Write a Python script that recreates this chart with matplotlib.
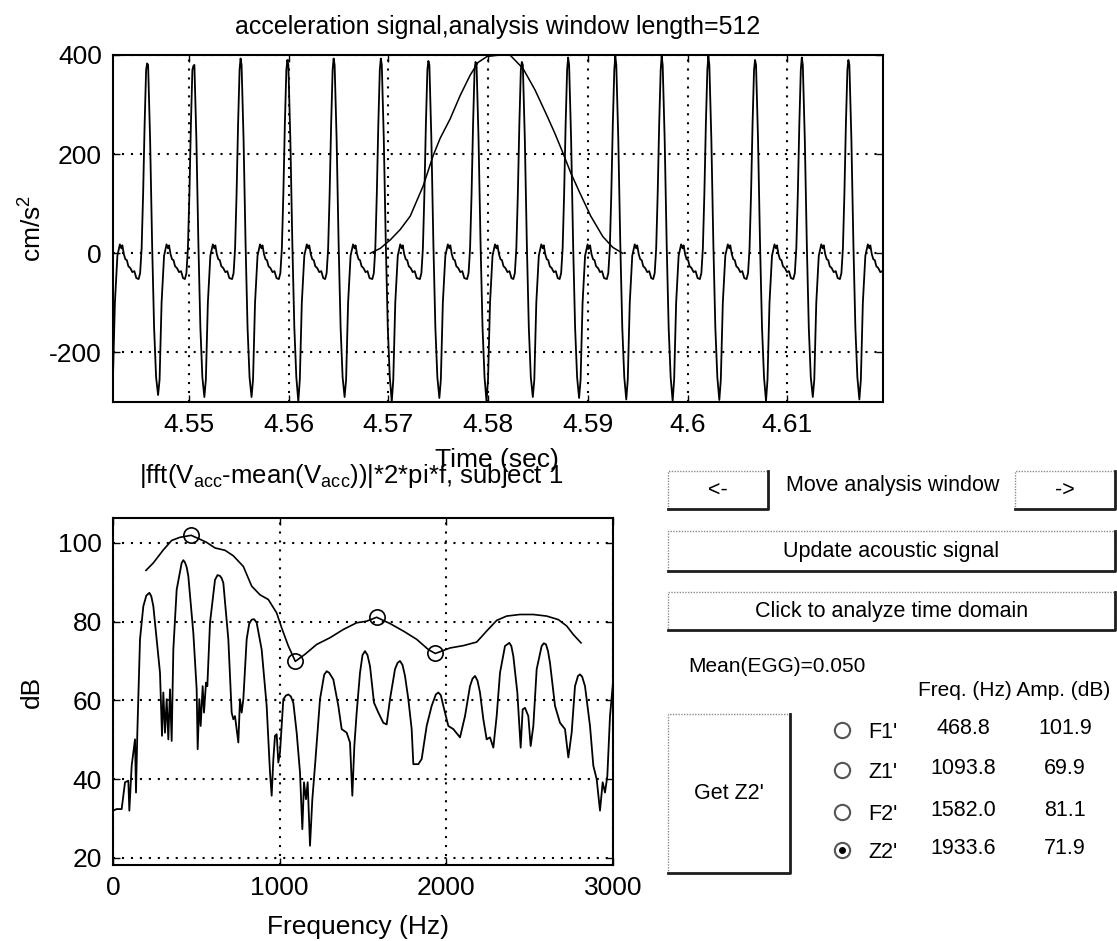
import numpy as np
import matplotlib.pyplot as plt
from matplotlib.patches import Rectangle
from matplotlib.lines import Line2D

plt.rcParams['font.family'] = ['Liberation Sans', 'DejaVu Sans']
plt.rcParams['mathtext.fontset'] = 'custom'
plt.rcParams['mathtext.rm'] = 'Liberation Sans'
plt.rcParams['axes.unicode_minus'] = False

# ---- acceleration signal (top) ----
# times of the positive spikes (s), spike heights and trough depths
peak_times = [4.54114, 4.54582, 4.55046, 4.55519, 4.55988, 4.56452, 4.56925, 4.57402,
              4.57875, 4.58339, 4.58803, 4.59276, 4.59741, 4.60209, 4.60677, 4.61146,
              4.61613, 4.62081]
peak_vals = [390, 383, 378, 393, 390, 393, 393, 388, 386, 386, 395, 398, 398, 398, 390, 395, 390, 390]
trough_vals = [-290, -286, -290, -290, -299, -290, -299, -292, -299, -290, -292, -295, -298,
               -296, -298, -290, -295, -292]
# one glottal cycle as seen in the trace: offset from spike (ms), value (cm/s^2)
cycle_off_ms = [-0.85, -0.7, -0.55, -0.4, -0.25, -0.1, 0.0, 0.1, 0.3, 0.5, 0.7, 0.9, 1.1,
                1.25, 1.45, 1.7, 1.95, 2.1, 2.2, 2.35, 2.5, 2.65, 2.8, 3.0, 3.2, 3.4, 3.6]
cycle_shape = [-52, -40, 10, 120, 260, 370, 390, 380, 230, 20, -150, -250, -290,
               -255, -100, -5, 18, 10, 16, -2, -12, -14, -26, -30, -38, -36, -50]

# analysis window drawn over the signal
win_t = [4.5682, 4.5692, 4.5702, 4.5712, 4.5722, 4.5735, 4.5745, 4.5752, 4.5762, 4.5772,
         4.5782, 4.5790, 4.5799, 4.5812, 4.5822, 4.5835, 4.5847, 4.5859, 4.5867, 4.5875,
         4.5883, 4.5892, 4.5903, 4.5915, 4.5925, 4.5935]
win_v = [0, 10, 27, 48, 75, 136, 197, 232, 271, 318,
         359, 385, 397, 400, 400, 373, 330, 278, 242, 203,
         162, 122, 75, 34, 12, 0]

# ---- spectrum (bottom) ----
spec_f = [0, 22, 52, 72, 92, 98, 112, 122, 132, 138,
          146, 162, 182, 200, 218, 230, 242, 266, 282, 294,
          302, 312, 322, 332, 342, 352, 362, 382, 412, 422,
          432, 442, 452, 482, 502, 508, 518, 526, 538, 546,
          558, 566, 582, 612, 627, 642, 652, 662, 692, 712,
          722, 732, 742, 752, 762, 772, 782, 802, 817, 832,
          847, 862, 892, 922, 942, 952, 962, 972, 982, 992,
          1002, 1022, 1037, 1052, 1067, 1082, 1102, 1122, 1136, 1146,
          1158, 1168, 1182, 1196, 1212, 1242, 1267, 1282, 1297, 1322,
          1352, 1372, 1402, 1422, 1436, 1448, 1462, 1482, 1497, 1512,
          1527, 1542, 1566, 1592, 1622, 1642, 1662, 1692, 1707, 1722,
          1737, 1752, 1772, 1792, 1802, 1832, 1852, 1882, 1912, 1937,
          1952, 1967, 1982, 2012, 2042, 2082, 2112, 2142, 2157, 2172,
          2187, 2202, 2222, 2242, 2262, 2282, 2302, 2322, 2352, 2365,
          2378, 2390, 2402, 2426, 2446, 2458, 2472, 2492, 2506, 2522,
          2542, 2572, 2585, 2598, 2610, 2622, 2652, 2682, 2712, 2732,
          2752, 2772, 2790, 2802, 2815, 2832, 2862, 2882, 2902, 2922,
          2938, 2952, 2966, 2982, 3000]
spec_db = [32, 32.4, 32.4, 39.2, 39.6, 32, 43.4, 46.8, 50.1, 36.6,
           51.8, 75.5, 83.9, 86.6, 87.3, 86.4, 83.9, 73.8, 67.0, 51,
           62, 51.8, 60.3, 50.1, 62.8, 49.7, 72.9, 88.1, 94.9, 95.6,
           95.0, 93.8, 91.5, 77.1, 62.8, 47.6, 60.3, 53.5, 63.6, 56.9,
           64.5, 63.6, 79.7, 90.6, 91.8, 91.6, 91.0, 89.8, 75.5, 56.9,
           55.2, 56.0, 52.7, 49.3, 60.3, 56.9, 60.3, 75.5, 79.4, 80.5,
           80.6, 79.7, 72.9, 58.6, 41.7, 35.8, 45, 51, 51.4, 44.2,
           46.8, 60.3, 61.2, 61.5, 61.0, 59.4, 51.8, 41.7, 27.3, 39.2,
           34.9, 39.2, 23.1, 34.9, 43.4, 60.3, 66.5, 67.4, 67.0, 65.3,
           58.6, 52.7, 51.8, 49.3, 35.8, 48.4, 56.9, 67.0, 71.5, 72.5,
           71.5, 68.7, 59.4, 56.9, 54.3, 53.9, 60.3, 67.9, 69.5, 70,
           69, 66.2, 60.3, 52.7, 43.8, 43.8, 45.1, 53.5, 58.6, 61.5,
           62, 61.3, 58.6, 53.5, 52.7, 50.6, 56.0, 63.6, 65.5, 66.2,
           65, 62, 55.2, 50.1, 50.6, 48, 56.0, 67, 73.8, 74.2,
           74.6, 73.8, 71.2, 62, 48, 57.7, 58.1, 56.0, 48.4, 53.5,
           67.9, 73.8, 74.5, 74.2, 72.5, 69.5, 58.6, 54.3, 52.7, 45.5,
           51.8, 63.6, 66.2, 66.6, 66.0, 63.6, 53.5, 43.4, 40, 32,
           39.2, 36.6, 40.8, 56.0, 64.5]
env_f = [198, 242, 302, 352, 402, 469, 522, 562, 612, 672, 722, 782, 832, 882, 932, 982,
         1012, 1052, 1094, 1152, 1222, 1302, 1382, 1462, 1522, 1582, 1662, 1742, 1822, 1892,
         1934, 2022, 2102, 2182, 2242, 2302, 2362, 2442, 2522, 2602, 2672, 2722, 2762, 2808]
env_db = [93.0, 94.9, 98.2, 100.6, 101.4, 101.9, 100.9, 100.1, 98.7, 98.1, 96.7, 94.0, 89.0,
          86.8, 85.6, 82.2, 78.4, 73.8, 69.9, 71.7, 74.2, 75.9, 78.0, 79.7, 80.1, 81.1, 79.5,
          77.6, 75.5, 72.9, 71.9, 73.3, 73.9, 74.8, 77.6, 80.3, 81.4, 81.8, 81.8, 81.4, 80.5,
          78.9, 76.7, 74.6]
formant_names = ["F1'", "Z1'", "F2'", "Z2'"]
formant_f = [468.8, 1093.8, 1582.0, 1933.6]
formant_db = [101.9, 69.9, 81.1, 71.9]
selected = 3

# build the trace from the spikes
i_pk = cycle_off_ms.index(0.0)
i_tr = cycle_off_ms.index(1.1)
sig_t, sig_v = [], []
for tp, pk, tr in zip(peak_times, peak_vals, trough_vals):
    vals = list(cycle_shape)
    vals[i_pk] = pk
    vals[i_tr] = tr
    sig_t += [tp + o / 1000.0 for o in cycle_off_ms]
    sig_v += vals

W, H = 1117, 941
fig = plt.figure(figsize=(W / 100, H / 100), dpi=100)


def fx(px):
    return px / W


def fy(py):
    return 1 - py / H


ax1 = fig.add_axes([fx(113), fy(402), (883 - 113) / W, (402 - 55) / H])
ax2 = fig.add_axes([fx(113), fy(865), (613 - 113) / W, (865 - 518) / H])

for ax in (ax1, ax2):
    ax.tick_params(direction='in', length=5, width=1, top=True, right=True, labelsize=19, pad=8)
    for s in ax.spines.values():
        s.set_linewidth(1.5)
    ax.grid(True, color='black', linestyle=(0, (1, 3.3)), lw=1.5)

ax1.plot(sig_t, sig_v, color='black', lw=1.3)
ax1.plot(win_t, win_v, color='black', lw=1.1)
ax1.set_xlim(4.5424, 4.6196)
ax1.set_ylim(-300, 400)
ax1.set_xticks([4.55, 4.56, 4.57, 4.58, 4.59, 4.60, 4.61])
ax1.set_xticklabels(['4.55', '4.56', '4.57', '4.58', '4.59', '4.6', '4.61'])
ax1.set_yticks([-200, 0, 200, 400])
ax1.set_title('acceleration signal,analysis window length=512', fontsize=18, pad=15)
ax1.set_xlabel('Time (sec)', fontsize=19)
ax1.xaxis.set_label_coords(0.4987, -0.133)
ax1.set_ylabel('cm/s$^2$', fontsize=19)
ax1.yaxis.set_label_coords(-0.087, 0.5)

ax2.plot(spec_f, spec_db, color='black', lw=1.3)
ax2.plot(env_f, env_db, color='black', lw=1.2)
ax2.plot(formant_f, formant_db, 'o', ms=11, mfc='none', mec='black', mew=1.2)
ax2.set_xlim(0, 3000)
ax2.set_ylim(18.2, 106.3)
ax2.set_xticks([0, 1000, 2000, 3000])
ax2.set_yticks([20, 40, 60, 80, 100])
t2 = ax2.set_title(r'|fft(V$_{\mathrm{acc}}$-mean(V$_{\mathrm{acc}}$))|*2*pi*f, subject 1',
                   fontsize=18.5, pad=25)
t2.set_x(0.476)
ax2.set_xlabel('Frequency (Hz)', fontsize=19)
ax2.xaxis.set_label_coords(0.49, -0.144)
ax2.set_ylabel('dB', fontsize=19)
ax2.yaxis.set_label_coords(-0.138, 0.5)


# ---- GUI controls on the right ----
def button(x0, y0, x1, y1, label=None, fs=15.5):
    fig.add_artist(Rectangle((fx(x0), fy(y1)), (x1 - x0) / W, (y1 - y0) / H,
                             transform=fig.transFigure, facecolor='white',
                             edgecolor='#8c8c8c', lw=1, linestyle=(0, (1, 1))))
    fig.add_artist(Line2D([fx(x0), fx(x1), fx(x1)], [fy(y1), fy(y1), fy(y0)],
                          transform=fig.transFigure, color='#1e1e1e', lw=2))
    if label:
        fig.text(fx((x0 + x1) / 2), fy((y0 + y1) / 2), label, ha='center', va='center', fontsize=fs)


button(668, 471, 768, 509, '<-')
button(1015, 471, 1115, 509, '->')
fig.text(fx(893), fy(485), 'Move analysis window', ha='center', va='center', fontsize=15.5)
button(668, 531, 1115, 571, 'Update acoustic signal')
button(668, 592, 1115, 630, 'Click to analyze time domain')
fig.text(fx(688), fy(667), 'Mean(EGG)=0.050', ha='left', va='center', fontsize=15)
fig.text(fx(918), fy(690), 'Freq. (Hz) Amp. (dB)', ha='left', va='center', fontsize=15)
button(668, 714, 790, 873, "Get Z2'")

row_y = [730, 770, 812, 850]
for k, (name, f, a, yy) in enumerate(zip(formant_names, formant_f, formant_db, row_y)):
    fig.add_artist(Line2D([fx(842)], [fy(yy)], marker='o', ms=11, mfc='white', mec='#555555',
                          mew=1.5, transform=fig.transFigure))
    if k == selected:
        fig.add_artist(Line2D([fx(842)], [fy(yy)], marker='o', ms=4, mfc='black', mec='black',
                              transform=fig.transFigure))
    fig.text(fx(868), fy(yy + 2), name, ha='left', va='center', fontsize=15.5)
    fig.text(fx(963), fy(yy - 2), f'{f:.1f}', ha='center', va='center', fontsize=15.5)
    fig.text(fx(1065), fy(yy - 2), f'{a:.1f}', ha='center', va='center', fontsize=15.5)

fig.savefig('out.png', dpi=100, facecolor='white')
